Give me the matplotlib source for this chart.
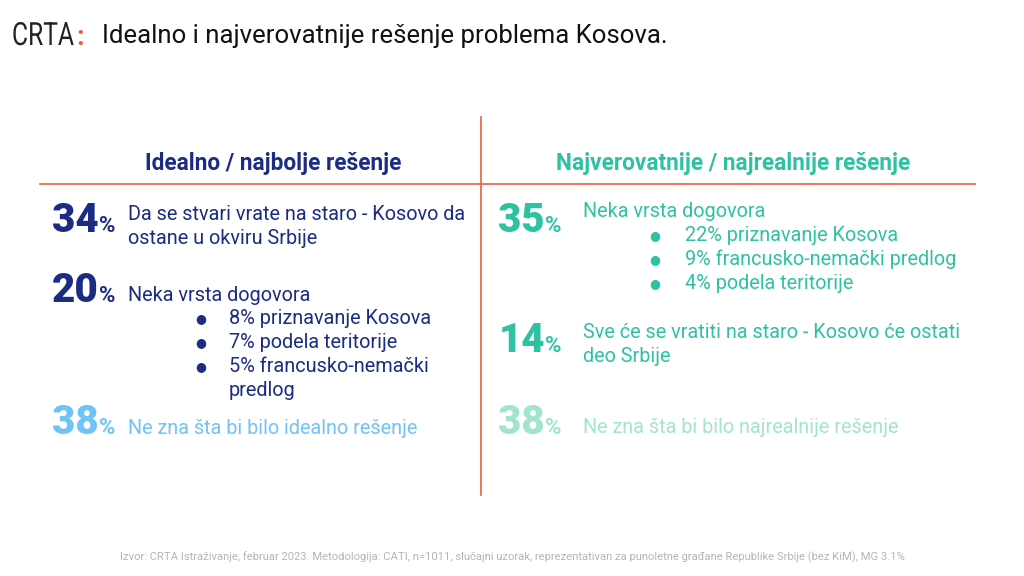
import matplotlib.pyplot as plt
from matplotlib.textpath import TextPath
from matplotlib.patches import PathPatch
from matplotlib.font_manager import FontProperties
from matplotlib.transforms import Affine2D

plt.rcParams['font.family'] = ['Roboto', 'DejaVu Sans']

# data
title = 'Idealno i najverovatnije rešenje problema Kosova.'
left_header = 'Idealno / najbolje rešenje'
right_header = 'Najverovatnije / najrealnije rešenje'

left_pct = [34, 20, 38]
left_text = [['Da se stvari vrate na staro - Kosovo da', 'ostane u okviru Srbije'],
             ['Neka vrsta dogovora'],
             ['Ne zna šta bi bilo idealno rešenje']]
left_sub = ['8% priznavanje Kosova', '7% podela teritorije', '5% francusko-nemački', 'predlog']

right_pct = [35, 14, 38]
right_text = [['Neka vrsta dogovora'],
              ['Sve će se vratiti na staro - Kosovo će ostati', 'deo Srbije'],
              ['Ne zna šta bi bilo najrealnije rešenje']]
right_sub = ['22% priznavanje Kosova', '9% francusko-nemački predlog', '4% podela teritorije']

source = ('Izvor: CRTA Istraživanje, februar 2023. Metodologija: CATI, n=1011, slučajni uzorak, '
          'reprezentativan za punoletne građane Republike Srbije (bez KiM), MG 3.1%')

navy = '#1c2b84'
lblue = '#6fc3f6'
teal = '#2ec2a2'
lteal = '#a2e4cf'
orange = '#e8603c'

fig = plt.figure(figsize=(10.24, 5.76), dpi=100)
ax = fig.add_axes([0, 0, 1, 1])
ax.set_xlim(0, 1024)
ax.set_ylim(576, 0)
ax.axis('off')

# logo
tp = TextPath((0, 0), 'CRTA', size=32, prop=FontProperties(family='Roboto', weight='normal'))
tr = Affine2D().scale(0.77, -1.0).translate(12, 45)
ax.add_patch(PathPatch(tr.transform_path(tp), color='#222222', lw=0))
ax.text(80.5, 45, ':', color=orange, fontsize=20, fontweight='bold', ha='center', va='baseline')
ax.text(102, 43, title, fontsize=18.5, color='#111111', va='baseline')

# dividers
ax.plot([40, 975], [184, 184], color=orange, lw=1.2)
ax.plot([481, 481], [117, 495], color=orange, lw=1.2)

ax.text(273, 170, left_header, fontsize=16.3, fontweight='bold', color=navy, ha='center', va='baseline')
ax.text(733, 170, right_header, fontsize=16.3, fontweight='bold', color=teal, ha='center', va='baseline')


def draw_column(pcts, texts, subs, colors, num_x, txt_x, num_y, txt_y, sub_item, sub_y, bul_x, sub_x):
    for pct, lines, c, ny, ty in zip(pcts, texts, colors, num_y, txt_y):
        ax.text(num_x, ny, str(pct), fontsize=29, fontweight='heavy', color=c, ha='right', va='baseline')
        ax.text(num_x + 0.5, ny, '%', fontsize=16, fontweight='bold', color=c, ha='left', va='baseline')
        for i, line in enumerate(lines):
            ax.text(txt_x, ty + i * 24.5, line, fontsize=14.3, color=c, va='baseline')
    c = colors[sub_item]
    for i, s in enumerate(subs):
        y = sub_y + i * 24
        if not s.startswith('predlog'):
            ax.text(bul_x, y - 5, '●', fontsize=9, color=c, ha='center', va='center')
        ax.text(sub_x, y, s, fontsize=14.3, color=c, va='baseline')


draw_column(left_pct, left_text, left_sub, [navy, navy, lblue],
            99, 128, [232, 302, 434], [220, 301, 434], 1, 324, 201, 229)
draw_column(right_pct, right_text, right_sub, [teal, teal, lteal],
            545, 583, [232, 352, 434], [217, 338, 433], 0, 241, 655, 685)

ax.text(512, 560, source, fontsize=8.1, color='#b5b5b5', ha='center', va='baseline')

fig.savefig('out.png', dpi=100)
